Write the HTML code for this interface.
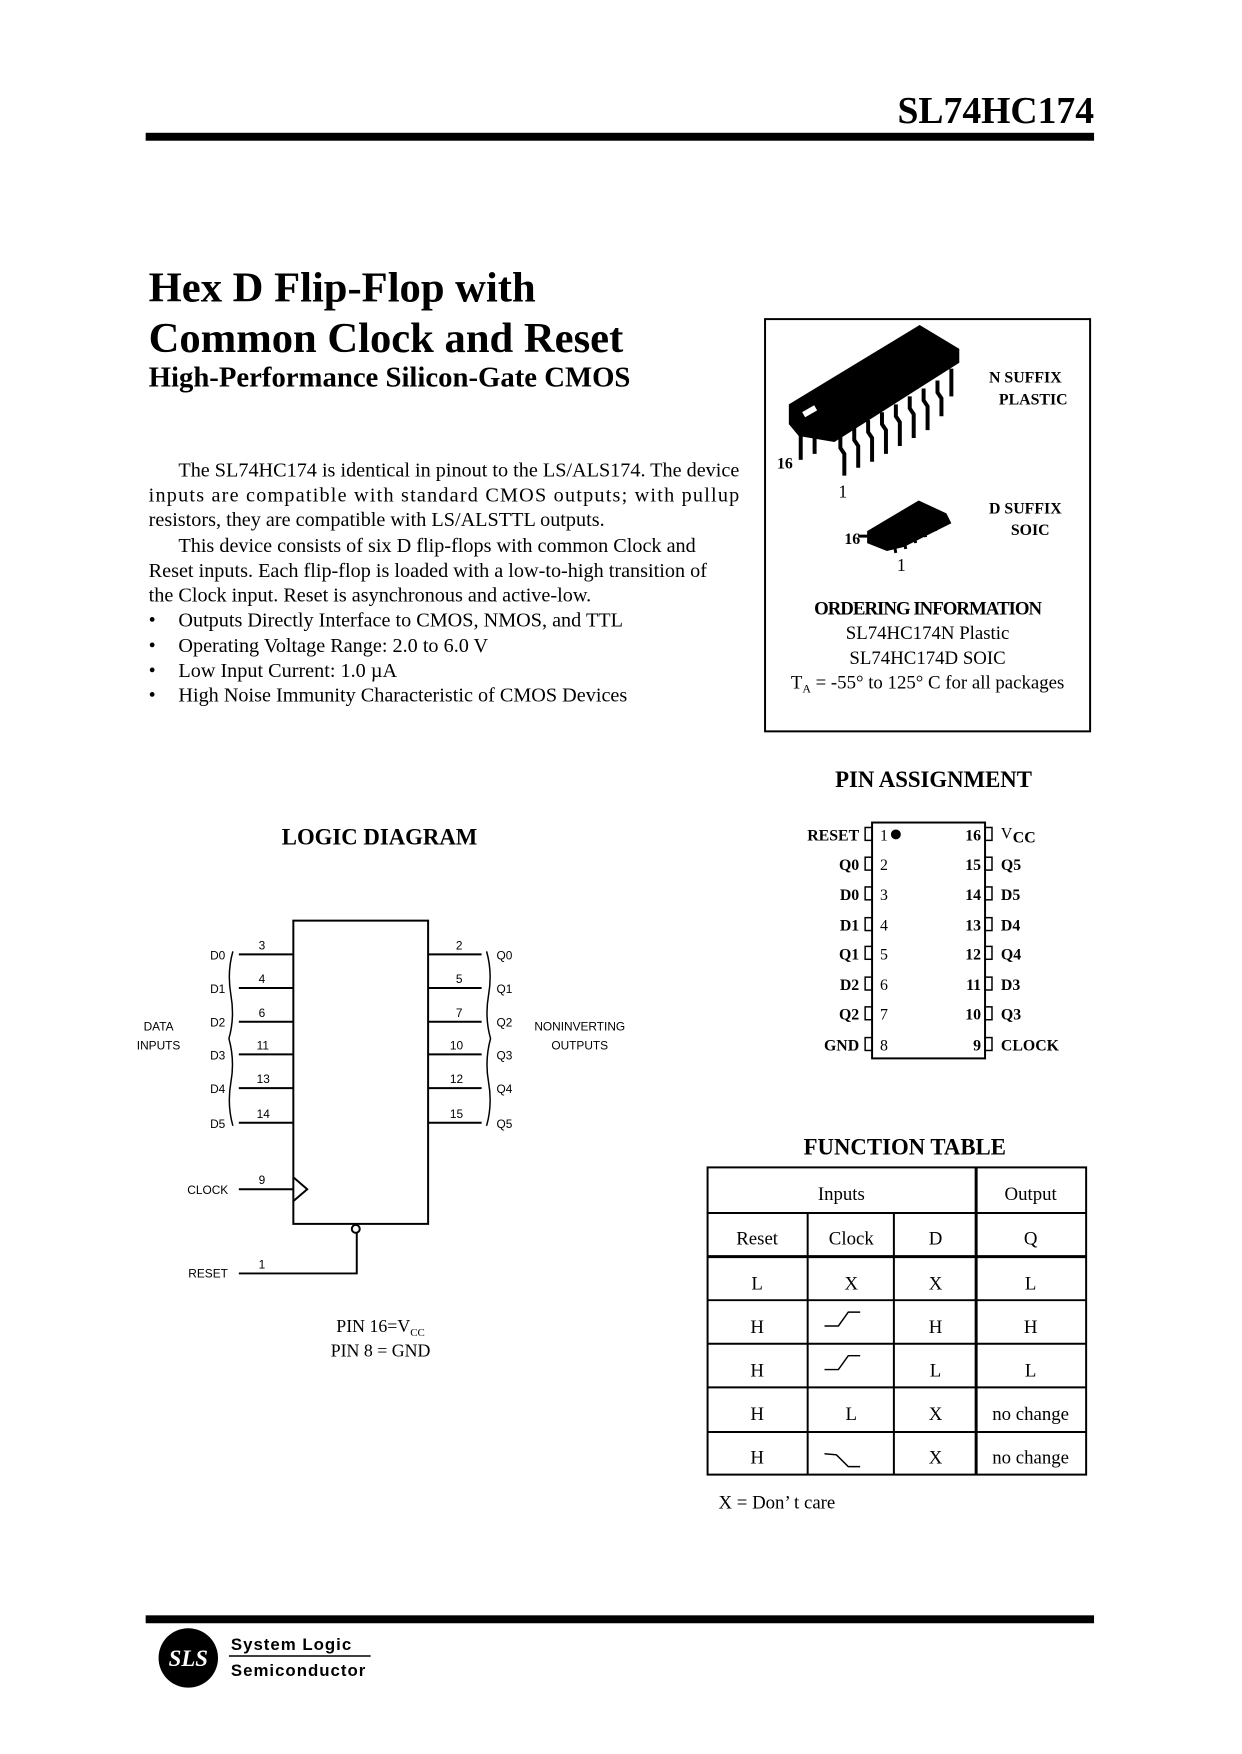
<!DOCTYPE html>
<html><head><meta charset="utf-8"><style>
html,body{margin:0;padding:0;background:#fff;}
svg{display:block;}
.s{font-family:"Liberation Serif",serif;}
.a{font-family:"Liberation Sans",sans-serif;}
</style></head><body>
<svg width="1242" height="1754" viewBox="0 0 1242 1754" xmlns="http://www.w3.org/2000/svg">
<rect width="1242" height="1754" fill="#fff"/>
<g transform="scale(0.991)">
<!-- header -->
<text x="1104" y="124" text-anchor="end" class="s" font-size="38" font-weight="bold">SL74HC174</text>
<rect x="147" y="134" width="957" height="8" fill="#000"/>
<!-- titles -->
<text x="150" y="304" class="s" font-size="43" font-weight="bold">Hex D Flip-Flop with</text>
<text x="150" y="355" class="s" font-size="43" font-weight="bold">Common Clock and Reset</text>
<text x="150" y="390" class="s" font-size="29" font-weight="bold">High-Performance Silicon-Gate CMOS</text>
<!-- body -->
<g class="s" font-size="20.4">
<text x="180" y="481" textLength="566" lengthAdjust="spacing">The SL74HC174 is identical in pinout to the LS/ALS174. The device</text>
<text x="150" y="506" textLength="596" lengthAdjust="spacing">inputs are compatible with standard CMOS outputs; with pullup</text>
<text x="150" y="531">resistors, they are compatible with LS/ALSTTL outputs.</text>
<text x="180" y="557">This device consists of six D flip-flops with common Clock and</text>
<text x="150" y="582">Reset inputs. Each flip-flop is loaded with a low-to-high transition of</text>
<text x="150" y="607">the Clock input. Reset is asynchronous and active-low.</text>
<text x="150" y="632">•</text><text x="180" y="632">Outputs Directly Interface to CMOS, NMOS, and TTL</text>
<text x="150" y="658">•</text><text x="180" y="658">Operating Voltage Range: 2.0 to 6.0 V</text>
<text x="150" y="683">•</text><text x="180" y="683">Low Input Current: 1.0 µA</text>
<text x="150" y="708">•</text><text x="180" y="708">High Noise Immunity Characteristic of CMOS Devices</text>
</g>
<!-- package box -->
<rect x="772" y="322" width="328" height="416" fill="none" stroke="#000" stroke-width="2"/>
<polygon points="796,408 928,328 968,352 968,366 842,446 806,440 796,428" fill="#000"/>
<g fill="none" stroke="#000" stroke-width="4">
<polyline points="808,432 808,464"/><polyline points="822,436 822,458"/>
<polyline points="848,440 848,452 852,458 852,480"/>
<polyline points="862,432 862,444 866,450 866,472"/>
<polyline points="876,424 876,436 880,442 880,466"/>
<polyline points="890,416 890,428 894,434 894,458"/>
<polyline points="904,408 904,420 908,426 908,450"/>
<polyline points="918,400 918,412 922,418 922,442"/>
<polyline points="932,392 932,404 936,410 936,434"/>
<polyline points="946,384 946,396 950,402 950,420"/>
<polyline points="960,372 960,400"/>
</g>
<rect x="810" y="412" width="14" height="6" fill="#fff" transform="rotate(-30 817 415)"/>
<g class="s" font-weight="bold" font-size="16">
<text x="998" y="386">N SUFFIX</text><text x="1008" y="408">PLASTIC</text>
<text x="998" y="518">D SUFFIX</text><text x="1020" y="540">SOIC</text>
<text x="784" y="473">16</text><text x="852" y="549">16</text>
</g>
<text x="846" y="502" class="s" font-size="18">1</text>
<text x="905" y="576" class="s" font-size="18">1</text>
<polygon points="875,536 927,505 955,518 960,528 912,552 895,556 875,548" fill="#000"/>
<g stroke="#000" stroke-width="3" fill="none">
<polyline points="902,548 904,558"/><polyline points="912,544 914,554"/><polyline points="922,538 924,548"/><polyline points="932,532 934,542"/><polyline points="942,526 944,536"/><polyline points="952,520 954,530"/>
<line x1="866" y1="541" x2="876" y2="541"/>
</g>
<g class="s" text-anchor="middle" font-size="19">
<text x="936" y="620" font-weight="bold" letter-spacing="-1">ORDERING INFORMATION</text>
<text x="936" y="645">SL74HC174N Plastic</text>
<text x="936" y="670">SL74HC174D SOIC</text>
<text x="936" y="695">T<tspan font-size="12" dy="4">A</tspan><tspan dy="-4"> = -55° to 125° C for all packages</tspan></text>
</g>
<!-- section titles -->
<g class="s" font-weight="bold" font-size="23" text-anchor="middle">
<text x="942" y="794">PIN ASSIGNMENT</text>
<text x="383" y="852">LOGIC DIAGRAM</text>
<text x="913" y="1165">FUNCTION TABLE</text>
</g>
<!-- pin assignment -->
<rect x="880" y="830" width="114" height="238" fill="none" stroke="#000" stroke-width="2"/>
<g fill="none" stroke="#000" stroke-width="1.5">
<rect x="873" y="835" width="7" height="13"/><rect x="873" y="865" width="7" height="13"/><rect x="873" y="895" width="7" height="13"/><rect x="873" y="926" width="7" height="13"/><rect x="873" y="955" width="7" height="13"/><rect x="873" y="986" width="7" height="13"/><rect x="873" y="1016" width="7" height="13"/><rect x="873" y="1047" width="7" height="13"/>
<rect x="994" y="835" width="7" height="13"/><rect x="994" y="865" width="7" height="13"/><rect x="994" y="895" width="7" height="13"/><rect x="994" y="926" width="7" height="13"/><rect x="994" y="955" width="7" height="13"/><rect x="994" y="986" width="7" height="13"/><rect x="994" y="1016" width="7" height="13"/><rect x="994" y="1047" width="7" height="13"/>
</g>
<circle cx="904" cy="842" r="5" fill="#000"/>
<g class="s" font-size="16" font-weight="bold" text-anchor="end">
<text x="867" y="848">RESET</text><text x="867" y="878">Q0</text><text x="867" y="908">D0</text><text x="867" y="939">D1</text><text x="867" y="968">Q1</text><text x="867" y="999">D2</text><text x="867" y="1029">Q2</text><text x="867" y="1060">GND</text>
<text x="990" y="848">16</text><text x="990" y="878">15</text><text x="990" y="908">14</text><text x="990" y="939">13</text><text x="990" y="968">12</text><text x="990" y="999">11</text><text x="990" y="1029">10</text><text x="990" y="1060">9</text>
</g>
<g class="s" font-size="16">
<text x="888" y="848">1</text><text x="888" y="878">2</text><text x="888" y="908">3</text><text x="888" y="939">4</text><text x="888" y="968">5</text><text x="888" y="999">6</text><text x="888" y="1029">7</text><text x="888" y="1060">8</text>
<text x="1010" y="846">V</text><text x="1022" y="850" font-weight="bold">CC</text>
</g>
<g class="s" font-size="16" font-weight="bold">
<text x="1010" y="878">Q5</text><text x="1010" y="908">D5</text><text x="1010" y="939">D4</text><text x="1010" y="968">Q4</text><text x="1010" y="999">D3</text><text x="1010" y="1029">Q3</text><text x="1010" y="1060">CLOCK</text>
</g>
<!-- logic diagram -->
<rect x="296" y="929" width="136" height="306" fill="none" stroke="#000" stroke-width="2"/>
<g stroke="#000" stroke-width="2" fill="none">
<line x1="241" y1="963" x2="296" y2="963"/><line x1="241" y1="997" x2="296" y2="997"/><line x1="241" y1="1031" x2="296" y2="1031"/><line x1="241" y1="1064" x2="296" y2="1064"/><line x1="241" y1="1098" x2="296" y2="1098"/><line x1="241" y1="1133" x2="296" y2="1133"/>
<line x1="432" y1="963" x2="486" y2="963"/><line x1="432" y1="997" x2="486" y2="997"/><line x1="432" y1="1031" x2="486" y2="1031"/><line x1="432" y1="1064" x2="486" y2="1064"/><line x1="432" y1="1098" x2="486" y2="1098"/><line x1="432" y1="1133" x2="486" y2="1133"/>
<line x1="241" y1="1200" x2="296" y2="1200"/>
<polyline points="296,1188 310,1200 296,1212"/>
<circle cx="359" cy="1240" r="4"/>
<polyline points="241,1285 360,1285 360,1244"/>
<path d="M235,960 Q229,981 233,1004 Q237,1027 231,1048 Q237,1070 233,1092 Q229,1115 235,1136" stroke-width="1.5"/>
<path d="M491,960 Q497,981 493,1004 Q489,1027 495,1048 Q489,1070 493,1092 Q497,1115 491,1136" stroke-width="1.5"/>
</g>
<g class="a" font-size="12">
<text x="212" y="968">D0</text><text x="212" y="1002">D1</text><text x="212" y="1036">D2</text><text x="212" y="1069">D3</text><text x="212" y="1103">D4</text><text x="212" y="1138">D5</text>
<text x="501" y="968">Q0</text><text x="501" y="1002">Q1</text><text x="501" y="1036">Q2</text><text x="501" y="1069">Q3</text><text x="501" y="1103">Q4</text><text x="501" y="1138">Q5</text>
<text x="261" y="958">3</text><text x="261" y="992">4</text><text x="261" y="1026">6</text><text x="259" y="1059">11</text><text x="259" y="1093">13</text><text x="259" y="1128">14</text>
<text x="460" y="958">2</text><text x="460" y="992">5</text><text x="460" y="1026">7</text><text x="454" y="1059">10</text><text x="454" y="1093">12</text><text x="454" y="1128">15</text>
<text x="261" y="1195">9</text><text x="261" y="1280">1</text>
<text x="189" y="1205">CLOCK</text><text x="190" y="1289">RESET</text>
<text x="160" y="1040" text-anchor="middle">DATA</text><text x="160" y="1059" text-anchor="middle">INPUTS</text>
<text x="585" y="1040" text-anchor="middle">NONINVERTING</text><text x="585" y="1059" text-anchor="middle">OUTPUTS</text>
</g>
<g class="s" font-size="18" text-anchor="middle">
<text x="384" y="1344">PIN 16=V<tspan font-size="11" dy="4">CC</tspan></text>
<text x="384" y="1369">PIN 8 = GND</text>
</g>
<!-- function table -->
<g stroke="#000" stroke-width="2" fill="none">
<rect x="714" y="1178" width="382" height="310"/>
<line x1="714" y1="1224" x2="1096" y2="1224"/>
<line x1="714" y1="1268" x2="1096" y2="1268" stroke-width="3"/>
<line x1="714" y1="1312" x2="1096" y2="1312"/>
<line x1="714" y1="1356" x2="1096" y2="1356"/>
<line x1="714" y1="1400" x2="1096" y2="1400"/>
<line x1="714" y1="1445" x2="1096" y2="1445"/>
<line x1="815" y1="1224" x2="815" y2="1488"/>
<line x1="902" y1="1224" x2="902" y2="1488"/>
<line x1="985" y1="1178" x2="985" y2="1488" stroke-width="3"/>
<polyline points="832,1338 846,1338 856,1324 868,1324" stroke-width="1.5"/>
<polyline points="832,1382 846,1382 856,1368 868,1368" stroke-width="1.5"/>
<polyline points="832,1467 844,1468 856,1480 868,1480" stroke-width="1.5"/>
</g>
<g class="s" font-size="19" text-anchor="middle">
<text x="849" y="1211">Inputs</text><text x="1040" y="1211">Output</text>
<text x="764" y="1256">Reset</text><text x="859" y="1256">Clock</text><text x="944" y="1256">D</text><text x="1040" y="1256">Q</text>
<text x="764" y="1301">L</text><text x="859" y="1301">X</text><text x="944" y="1301">X</text><text x="1040" y="1301">L</text>
<text x="764" y="1345">H</text><text x="944" y="1345">H</text><text x="1040" y="1345">H</text>
<text x="764" y="1389">H</text><text x="944" y="1389">L</text><text x="1040" y="1389">L</text>
<text x="764" y="1433">H</text><text x="859" y="1433">L</text><text x="944" y="1433">X</text><text x="1040" y="1433">no change</text>
<text x="764" y="1477">H</text><text x="944" y="1477">X</text><text x="1040" y="1477">no change</text>
</g>
<text x="725" y="1522" class="s" font-size="19">X = Don’ t care</text>
<!-- footer -->
<rect x="147" y="1630" width="957" height="8" fill="#000"/>
<circle cx="190" cy="1673" r="30" fill="#000"/>
<text x="190" y="1681" text-anchor="middle" class="s" font-size="23" font-style="italic" font-weight="bold" fill="#fff">SLS</text>
<text x="233" y="1665" class="a" font-size="17" font-weight="bold" letter-spacing="1">System Logic</text>
<line x1="231" y1="1671" x2="374" y2="1671" stroke="#000" stroke-width="1.5"/>
<text x="233" y="1691" class="a" font-size="17" font-weight="bold" letter-spacing="1">Semiconductor</text>
</g>
</svg>
</body></html>
